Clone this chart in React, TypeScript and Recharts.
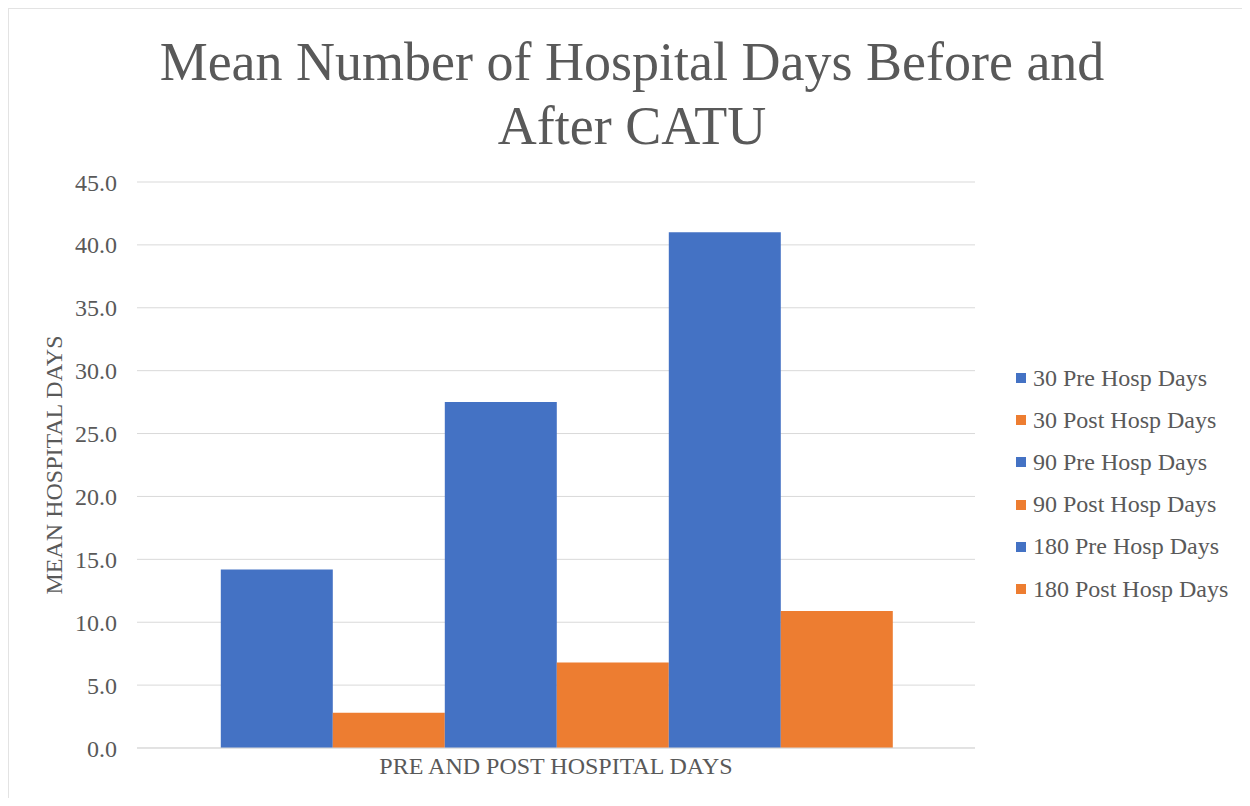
import React from 'react';
import { BarChart, Bar, XAxis, YAxis, CartesianGrid } from 'recharts';

const categories = ['PRE AND POST HOSPITAL DAYS'];
const seriesNames = [
  '30 Pre Hosp Days',
  '30 Post Hosp Days',
  '90 Pre Hosp Days',
  '90 Post Hosp Days',
  '180 Pre Hosp Days',
  '180 Post Hosp Days',
];
const seriesValues = [14.2, 2.8, 27.5, 6.8, 41.0, 10.9];
const yTicks = [0, 5, 10, 15, 20, 25, 30, 35, 40, 45];

const BLUE = '#4472C4';
const ORANGE = '#ED7D31';
const seriesColors = [BLUE, ORANGE, BLUE, ORANGE, BLUE, ORANGE];
const TEXT = '#595959';
const FONT = '"Liberation Serif", "Times New Roman", serif';

const data = categories.map((c) => {
  const row: Record<string, string | number> = { category: c };
  seriesNames.forEach((name, i) => {
    row[name] = seriesValues[i];
  });
  return row;
});

const YLabel = () => (
  <text
    x={46}
    y={457}
    transform="rotate(-90 46 457)"
    textAnchor="middle"
    dominantBaseline="central"
    fill={TEXT}
    fontSize={24}
    fontFamily={FONT}
  >
    MEAN HOSPITAL DAYS
  </text>
);

export default function App() {
  return (
    <div
      style={{
        position: 'relative',
        width: 1237,
        height: 790,
        background: '#fff',
        fontFamily: FONT,
      }}
    >
      <div
        style={{
          position: 'absolute',
          left: 24,
          top: 22,
          width: 1200,
          textAlign: 'center',
          fontSize: 54,
          lineHeight: '64px',
          color: TEXT,
          whiteSpace: 'nowrap',
        }}
      >
        Mean Number of Hospital Days Before and
        <br />
        After CATU
      </div>

      <div style={{ position: 'absolute', left: 0, top: 0 }}>
        <BarChart
          width={1237}
          height={790}
          data={data}
          margin={{ top: 174, right: 270, bottom: 0, left: 0 }}
          barCategoryGap="10%"
          barGap={0}
        >
          <CartesianGrid vertical={false} stroke="#d9d9d9" />
          <XAxis
            dataKey="category"
            height={50}
            axisLine={{ stroke: '#d9d9d9' }}
            tickLine={false}
            tickSize={0}
            tickMargin={9}
            tick={{ fill: TEXT, fontSize: 24, fontFamily: FONT }}
          />
          <YAxis
            width={129}
            domain={[0, 45]}
            ticks={yTicks}
            interval={0}
            axisLine={false}
            tickLine={false}
            tickSize={0}
            tickMargin={20}
            tickFormatter={(v: number) => v.toFixed(1)}
            tick={{ fill: TEXT, fontSize: 24, fontFamily: FONT }}
            label={<YLabel />}
          />
          {seriesNames.map((name, i) => (
            <Bar
              key={name}
              dataKey={name}
              fill={seriesColors[i]}
              isAnimationActive={false}
            />
          ))}
        </BarChart>
      </div>

      <div
        style={{
          position: 'absolute',
          left: 1008,
          top: 349,
          color: TEXT,
          fontSize: 24,
        }}
      >
        {seriesNames.map((name, i) => (
          <div
            key={name}
            style={{ height: 42.2, display: 'flex', alignItems: 'center', whiteSpace: 'nowrap' }}
          >
            <span
              style={{
                display: 'inline-block',
                width: 10,
                height: 10,
                background: seriesColors[i],
                marginRight: 7,
              }}
            />
            {name}
          </div>
        ))}
      </div>

      <div
        style={{
          position: 'absolute',
          left: -1,
          top: -1,
          right: 0,
          bottom: 0,
          borderTop: '2px solid #e3e3e3',
          borderLeft: '2px solid #e3e3e3',
          pointerEvents: 'none',
        }}
      />
    </div>
  );
}
